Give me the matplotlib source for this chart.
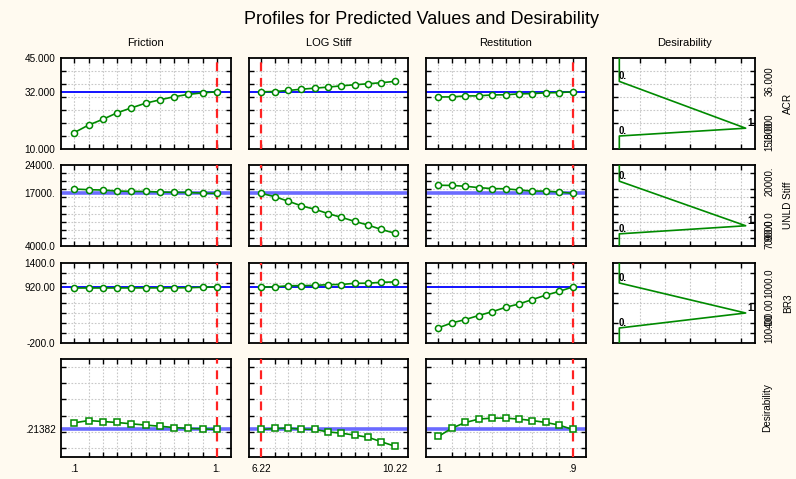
import matplotlib
matplotlib.use("Agg")
import matplotlib.pyplot as plt

plt.rcParams['font.family'] = ['Liberation Sans', 'DejaVu Sans']

title = "Profiles for Predicted Values and Desirability"
factor_names = ["Friction", "LOG Stiff", "Restitution"]
response_names = ["ACR", "UNLD Stiff", "BR3", "Desirability"]

# factor levels
friction = [0.10, 0.19, 0.28, 0.37, 0.46, 0.55, 0.64, 0.73, 0.82, 0.91, 1.00]
log_stiff = [6.22, 6.62, 7.02, 7.42, 7.82, 8.22, 8.62, 9.02, 9.42, 9.82, 10.22]
restitution = [0.10, 0.18, 0.26, 0.34, 0.42, 0.50, 0.58, 0.66, 0.74, 0.82, 0.90]
current_settings = [1.00, 6.22, 0.90]
factor_tick_labels = [[".1", "1."], ["6.22", "10.22"], [".1", ".9"]]

# predicted responses along each factor
acr_vs_friction = [16.3, 19.2, 21.4, 23.9, 25.8, 27.6, 28.9, 30.1, 31.0, 31.6, 32.0]
acr_vs_log_stiff = [32.0, 32.1, 32.5, 33.0, 33.4, 33.8, 34.3, 34.7, 35.1, 35.5, 36.0]
acr_vs_restitution = [30.0, 30.05, 30.4, 30.45, 30.8, 30.85, 31.2, 31.3, 31.6, 31.7, 32.0]

unld_vs_friction = [18070, 17900, 17820, 17580, 17490, 17460, 17330, 17250, 17220, 17050, 17000]
unld_vs_log_stiff = [17000, 16170, 15080, 13920, 13080, 12000, 11080, 10080, 9170, 8080, 7170]
unld_vs_restitution = [19000, 18950, 18750, 18420, 18170, 18130, 17830, 17580, 17550, 17330, 17000]

br3_vs_friction = [900, 900, 900, 901, 901, 902, 902, 903, 905, 915, 920]
br3_vs_log_stiff = [920, 922, 945, 948, 952, 967, 970, 994, 996, 1014, 1021]
br3_vs_restitution = [106, 201, 269, 350, 425, 513, 581, 669, 757, 832, 920]

des_vs_friction = [0.255, 0.269, 0.263, 0.257, 0.249, 0.241, 0.234, 0.226, 0.220, 0.218, 0.21382]
des_vs_log_stiff = [0.21382, 0.220, 0.222, 0.216, 0.214, 0.199, 0.191, 0.179, 0.166, 0.138, 0.111]
des_vs_restitution = [0.171, 0.222, 0.257, 0.278, 0.284, 0.284, 0.278, 0.269, 0.257, 0.241, 0.21382]

# current predicted values
current_predictions = [32.0, 17000, 920, 0.21382]
response_tick_labels = [
    ["10.000", "32.000", "45.000"],
    ["4000.0", "17000.", "24000."],
    ["-200.0", "920.00", "1400.0"],
    [".21382"],
]
response_limits = [(10, 45), (4000, 24000), (-200, 1400), (0.044, 0.649)]
response_grid = [
    [15, 20, 25, 30, 35, 40],
    [6000, 8000, 10000, 12000, 14000, 16000, 18000, 20000, 22000],
    [0, 200, 400, 600, 800, 1000, 1200],
    [0.1, 0.2, 0.3, 0.4, 0.5, 0.6],
]

# desirability specification: low, target, high
desirability_specs = [(15, 18, 36), (7000, 9000, 20000), (100, 400, 1000)]
desirability_tick_labels = [
    ["15.000", "18.000", "36.000"],
    ["7000.0", "9000.0", "20000."],
    ["100.00", "400.00", "1000.0"],
]

profiles = [
    [acr_vs_friction, acr_vs_log_stiff, acr_vs_restitution],
    [unld_vs_friction, unld_vs_log_stiff, unld_vs_restitution],
    [br3_vs_friction, br3_vs_log_stiff, br3_vs_restitution],
    [des_vs_friction, des_vs_log_stiff, des_vs_restitution],
]
factor_levels = [friction, log_stiff, restitution]

W, H = 796, 479
BG = "#fffaf0"
GREEN = "#008a00"
GRID = "#c8c8c8"

fig = plt.figure(figsize=(W / 100, H / 100), dpi=100, facecolor=BG)

col_px = [(61, 231), (249, 408), (426, 586), (613, 755)]
row_px = [(58, 149), (165, 246), (263, 343), (359, 457)]


def make_axes(c, r):
    x0, x1 = col_px[c]
    y0, y1 = row_px[r]
    ax = fig.add_axes([x0 / W, 1 - y1 / H, (x1 - x0) / W, (y1 - y0) / H])
    ax.set_facecolor("white")
    for s in ax.spines.values():
        s.set_linewidth(1.3)
        s.set_color("black")
    ax.tick_params(which="minor", direction="in", length=3.5, width=1.0,
                   top=True, bottom=True, left=True, right=True)
    ax.tick_params(which="major", length=0, labelsize=7.2)
    ax.grid(which="minor", color=GRID, linestyle=(0, (1.5, 1.5)), linewidth=0.8)
    ax.grid(which="major", visible=False)
    ax.set_axisbelow(True)
    return ax


for r in range(4):
    lo, hi = response_limits[r]
    cur = current_predictions[r]
    thick = r in (1, 3)
    for c in range(3):
        ax = make_axes(c, r)
        xs = factor_levels[c]
        step = xs[1] - xs[0]
        ax.set_xlim(xs[0] - 0.93 * step, xs[-1] + 1.0 * step)
        ax.set_ylim(lo, hi)
        ax.set_xticks(xs, minor=True)
        ax.set_yticks(response_grid[r], minor=True)
        if r == 3:
            ax.set_xticks([xs[0], xs[-1]], factor_tick_labels[c])
            ax.tick_params(axis="x", which="major", pad=5)
        else:
            ax.set_xticks([])
        if c == 0:
            if r < 3:
                ax.set_yticks([lo, cur, hi], response_tick_labels[r])
            else:
                ax.set_yticks([cur], response_tick_labels[r])
            ax.tick_params(axis="y", which="major", pad=4)
        else:
            ax.set_yticks([])
        ax.axhline(cur, color="#6a6aff" if thick else "#0000ff",
                   lw=2.6 if thick else 1.3, zorder=2)
        ax.axvline(current_settings[c], color="#ff2222", lw=1.6,
                   ls=(0, (4, 3)), zorder=3)
        ax.plot(xs, profiles[r][c], color=GREEN, lw=1.2,
                marker="s" if r == 3 else "o", ms=4.2 if r == 3 else 4.4,
                mfc="white", mec=GREEN, mew=1.1, zorder=4)
        ax.tick_params(axis="both", which="minor", labelleft=False, labelbottom=False)

# desirability functions for each response
for r in range(3):
    ax = make_axes(3, r)
    lo, hi = response_limits[r]
    low, target, high = desirability_specs[r]
    ax.set_xlim(-0.05, 1.074)
    ax.set_ylim(lo, hi)
    ax.set_xticks([0.16, 0.36, 0.56, 0.76, 0.96], minor=True)
    ax.set_xticks([])
    ax.set_yticks(response_grid[r], minor=True)
    ax.yaxis.tick_right()
    ax.set_yticks([low, target, high], desirability_tick_labels[r])
    ax.tick_params(axis="y", which="major", right=True, left=False, labelright=True,
                   labelleft=False, pad=7, labelsize=7)
    ax.tick_params(axis="y", which="minor", left=True, right=True)
    for lab in ax.get_yticklabels():
        lab.set_rotation(90)
        lab.set_va("center")
    ax.plot([0, 0, 1, 0, 0], [lo, low, target, high, hi], color=GREEN, lw=1.2,
            zorder=4, clip_on=True)
    ax.text(-0.005, low, "0.", fontsize=7, fontweight="bold", ha="left", va="bottom", zorder=5)
    ax.text(-0.005, high, "0.", fontsize=7, fontweight="bold", ha="left", va="bottom", zorder=5)
    ax.text(1.01, target, "1.", fontsize=7, fontweight="bold", ha="left", va="bottom", zorder=5)

fig.text(422 / W, 1 - 20 / H, title, ha="center", va="center", fontsize=13)
for c, name in enumerate(factor_names + ["Desirability"]):
    x0, x1 = col_px[c]
    fig.text((x0 + x1) / 2 / W, 1 - 43 / H, name, ha="center", va="center", fontsize=8)

for r, name in enumerate(response_names):
    y0, y1 = row_px[r]
    xpos = 788 if r < 3 else 767
    fig.text(xpos / W, 1 - (y0 + y1) / 2 / H, name, rotation=90,
             ha="center", va="center", fontsize=7.2)

fig.savefig("out.png", dpi=100, facecolor=BG)
